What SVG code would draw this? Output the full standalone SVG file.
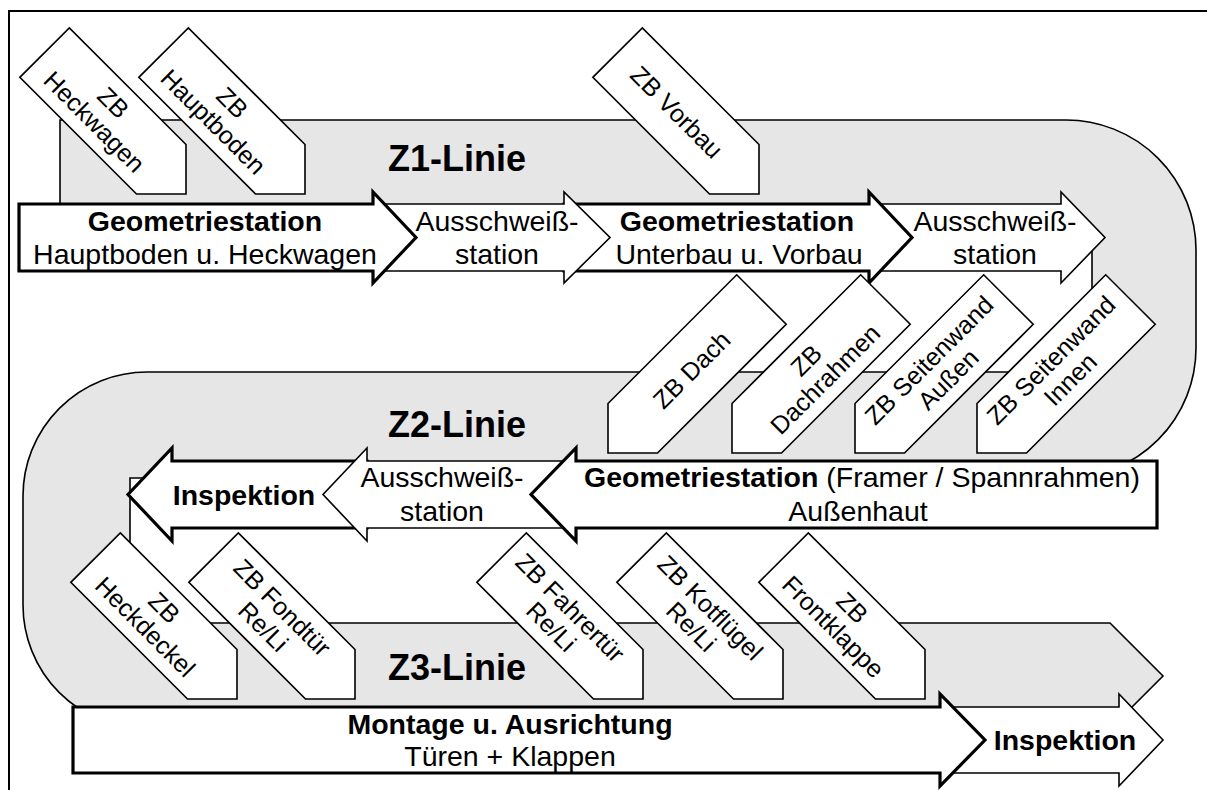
<svg xmlns="http://www.w3.org/2000/svg" width="1207" height="790" viewBox="0 0 1207 790">
  <style>
    text { font-family: "Liberation Sans", Arial, sans-serif; fill: #000; }
    .lbl { font-size: 28.5px; text-anchor: middle; }
    .b { font-weight: bold; }
    .zb { font-size: 25px; text-anchor: middle; }
    .line { font-size: 36px; font-weight: bold; }
    .thin { fill: #fff; stroke: #000; stroke-width: 1.6; stroke-linejoin: miter; }
    .thick { fill: #fff; stroke: #000; stroke-width: 3.2; stroke-linejoin: miter; }
    .track { fill: #e6e6e6; stroke: #000; stroke-width: 1.6; }
    .frame { fill: #fff; stroke: #000; stroke-width: 2; }
  </style>
  <defs>
    <!-- sub-assembly feeder, pointing along +x, tip at origin -->
    <path id="zbR" d="M0,0 L-35,-35 H-200 V35 H-35 Z"/>
    <!-- sub-assembly feeder, pointing along -x, tip at origin -->
    <path id="zbL" d="M0,0 L35,-35 H217 V35 H35 Z"/>
  </defs>

  <rect class="frame" x="9" y="11" width="1215" height="800"/>

  <!-- serpentine conveyor track -->
  <g id="track">
    <path class="track" d="M60,120 H1066 A130,130 0 0 1 1196,250 V348 A130,130 0 0 1 1066,478 H130 V623 H1110 L1163,676 L1110,729 H147 A124,124 0 0 1 23,605 V496 A124,124 0 0 1 147,372 H1092 V250 H60 Z"/>
    <text class="line" x="388" y="171">Z1-Linie</text>
    <text class="line" x="388" y="437">Z2-Linie</text>
    <text class="line" x="388" y="680">Z3-Linie</text>
  </g>

  <!-- Z1 feeders -->
  <g id="zb-heckwagen" transform="translate(186,194) rotate(45)">
    <use href="#zbR" class="thin"/>
    <text class="zb" x="-116" y="-4.5">ZB</text>
    <text class="zb" x="-116" y="22.5">Heckwagen</text>
  </g>
  <g id="zb-hauptboden" transform="translate(305,194) rotate(45)">
    <use href="#zbR" class="thin"/>
    <text class="zb" x="-116" y="-4.5">ZB</text>
    <text class="zb" x="-116" y="22.5">Hauptboden</text>
  </g>
  <g id="zb-vorbau" transform="translate(759,194) rotate(45)">
    <use href="#zbR" class="thin"/>
    <text class="zb" x="-116" y="9">ZB Vorbau</text>
  </g>

  <!-- Z1 stations (downstream drawn first) -->
  <g id="z1-ausschweiss-2">
    <path class="thin" d="M869,204 H1061 V192 L1105,237.5 L1061,283 V271 H869 Z"/>
    <text class="lbl" x="995" y="231">Ausschweiß-</text>
    <text class="lbl" x="995" y="264">station</text>
  </g>
  <g id="z1-geometrie-2">
    <path class="thick" d="M564,204 H869 V192 L912,237.5 L869,283 V271 H564 Z"/>
    <text class="lbl b" x="737" y="231">Geometriestation</text>
    <text class="lbl" x="739" y="264">Unterbau u. Vorbau</text>
  </g>
  <g id="z1-ausschweiss-1">
    <path class="thin" d="M373,204 H564 V192 L610,237.5 L564,283 V271 H373 Z"/>
    <text class="lbl" x="497" y="231">Ausschweiß-</text>
    <text class="lbl" x="497" y="264">station</text>
  </g>
  <g id="z1-geometrie-1">
    <path class="thick" d="M19,204 H373 V192 L416,237.5 L373,283 V271 H19 Z"/>
    <text class="lbl b" x="205" y="231">Geometriestation</text>
    <text class="lbl" x="205" y="264">Hauptboden u. Heckwagen</text>
  </g>

  <!-- Z2 feeders -->
  <g id="zb-dach" transform="translate(608,453) rotate(-45)">
    <use href="#zbL" class="thin"/>
    <text class="zb" x="118" y="9">ZB Dach</text>
  </g>
  <g id="zb-dachrahmen" transform="translate(732,453) rotate(-45)">
    <use href="#zbL" class="thin"/>
    <text class="zb" x="118" y="-4.5">ZB</text>
    <text class="zb" x="118" y="22.5">Dachrahmen</text>
  </g>
  <g id="zb-seitenwand-aussen" transform="translate(855,453) rotate(-45)">
    <use href="#zbL" class="thin"/>
    <text class="zb" x="118" y="-4.5">ZB Seitenwand</text>
    <text class="zb" x="118" y="22.5">Außen</text>
  </g>
  <g id="zb-seitenwand-innen" transform="translate(977,453) rotate(-45)">
    <use href="#zbL" class="thin"/>
    <text class="zb" x="118" y="-4.5">ZB Seitenwand</text>
    <text class="zb" x="118" y="22.5">Innen</text>
  </g>

  <!-- Z2 stations (flow to the left) -->
  <g id="z2-inspektion">
    <path class="thick" d="M367,461 H172 V448 L128,494.5 L172,541 V528 H367 Z"/>
    <text class="lbl b" x="244" y="505">Inspektion</text>
  </g>
  <g id="z2-ausschweiss">
    <path class="thin" d="M576,461 H367 V448 L323,494.5 L367,541 V528 H576 Z"/>
    <text class="lbl" x="442" y="487">Ausschweiß-</text>
    <text class="lbl" x="442" y="521">station</text>
  </g>
  <g id="z2-geometrie">
    <path class="thick" d="M1157,461 H576 V448 L531,494.5 L576,541 V528 H1157 Z"/>
    <text class="lbl" x="862" y="487"><tspan class="b">Geometriestation</tspan> (Framer / Spannrahmen)</text>
    <text class="lbl" x="858" y="521">Außenhaut</text>
  </g>

  <!-- Z3 feeders -->
  <g id="zb-heckdeckel" transform="translate(237,699) rotate(45)">
    <use href="#zbR" class="thin"/>
    <text class="zb" x="-116" y="-4.5">ZB</text>
    <text class="zb" x="-116" y="22.5">Heckdeckel</text>
  </g>
  <g id="zb-fondtuer" transform="translate(355,699) rotate(45)">
    <use href="#zbR" class="thin"/>
    <text class="zb" x="-116" y="-4.5">ZB Fondtür</text>
    <text class="zb" x="-116" y="22.5">Re/Li</text>
  </g>
  <g id="zb-fahrertuer" transform="translate(643,699) rotate(45)">
    <use href="#zbR" class="thin"/>
    <text class="zb" x="-116" y="-4.5">ZB Fahrertür</text>
    <text class="zb" x="-116" y="22.5">Re/Li</text>
  </g>
  <g id="zb-kotfluegel" transform="translate(783,699) rotate(45)">
    <use href="#zbR" class="thin"/>
    <text class="zb" x="-116" y="-4.5">ZB Kotflügel</text>
    <text class="zb" x="-116" y="22.5">Re/Li</text>
  </g>
  <g id="zb-frontklappe" transform="translate(925,699) rotate(45)">
    <use href="#zbR" class="thin"/>
    <text class="zb" x="-116" y="-4.5">ZB</text>
    <text class="zb" x="-116" y="22.5">Frontklappe</text>
  </g>

  <!-- Z3 stations -->
  <g id="z3-inspektion">
    <path class="thin" d="M940,707 H1119 V694 L1163,740 L1119,786 V773 H940 Z"/>
    <text class="lbl b" x="1065" y="750">Inspektion</text>
  </g>
  <g id="z3-montage">
    <path class="thick" d="M73,707 H940 V694 L985,740 L940,786 V773 H73 Z"/>
    <text class="lbl b" x="510" y="734">Montage u. Ausrichtung</text>
    <text class="lbl" x="510" y="766">Türen + Klappen</text>
  </g>
</svg>
